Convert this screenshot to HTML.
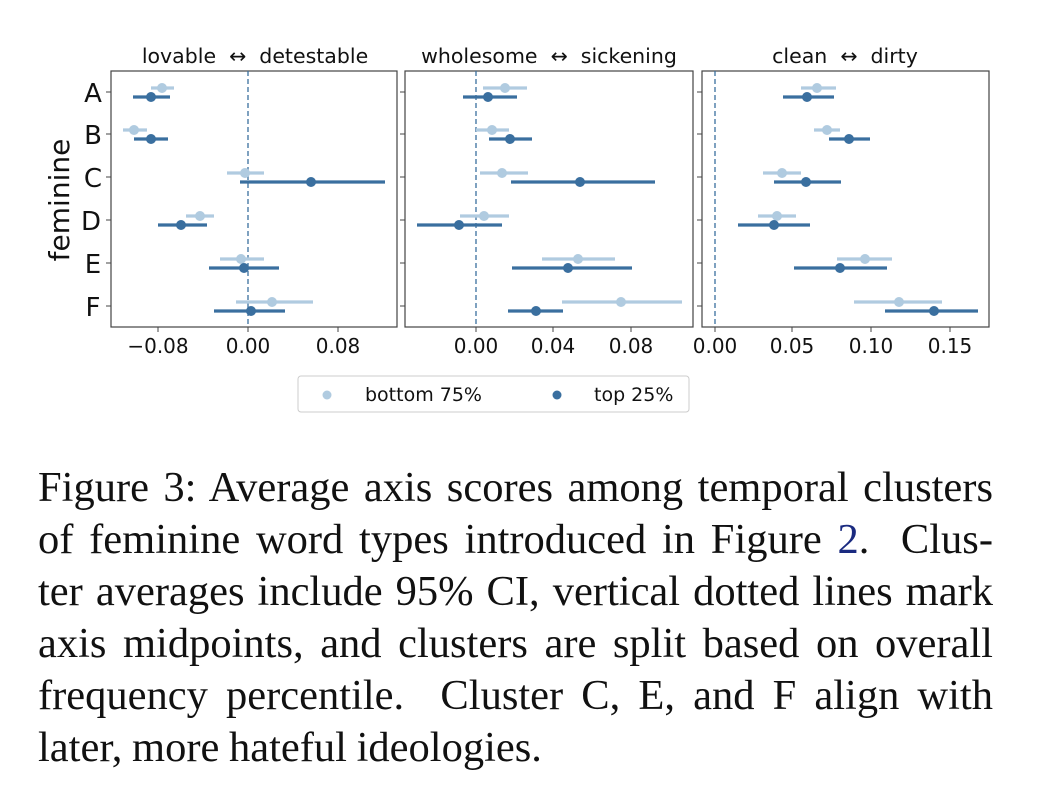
<!DOCTYPE html>
<html><head><meta charset="utf-8"><style>
body{margin:0;background:#fff;width:1040px;height:808px;overflow:hidden;position:relative}
svg{position:absolute;left:0;top:0}
.cap{position:absolute;left:38px;width:955px;font-family:"Liberation Serif",serif;font-size:42.5px;line-height:52px;color:#111;text-align:justify;text-align-last:justify;white-space:nowrap;word-spacing:-1px}
</style></head><body>
<svg width="1040" height="430" font-family="DejaVu Sans, sans-serif">
<g fill="none" stroke="#444" stroke-width="1.2">
<rect x="111" y="71" width="286" height="256"/>
<rect x="405" y="71" width="288" height="256"/>
<rect x="702" y="71" width="287" height="256"/>
</g>
<g stroke="#444" stroke-width="1">
<path d="M106 92h5M106 134h5M106 177h5M106 220h5M106 263h5M106 306h5"/>
<path d="M400 92h5M400 134h5M400 177h5M400 220h5M400 263h5M400 306h5"/>
<path d="M697 92h5M697 134h5M697 177h5M697 220h5M697 263h5M697 306h5"/>
<path d="M158 327v5M248 327v5M338 327v5M476 327v5M553 327v5M631 327v5M715 327v5M792 327v5M871 327v5M950 327v5"/>
</g>
<g stroke="#3a6f9f" stroke-width="1.3" stroke-dasharray="5,3">
<path d="M248 71V327M476 71V327M715 71V327"/>
</g>
<g font-size="20.5" fill="#111" text-anchor="middle">
<text x="255" y="63">lovable&#160;&#160;↔&#160;&#160;detestable</text>
<text x="549" y="63">wholesome&#160;&#160;↔&#160;&#160;sickening</text>
<text x="845" y="63">clean&#160;&#160;↔&#160;&#160;dirty</text>
</g>
<g font-size="20" fill="#111" text-anchor="middle">
<text x="158" y="353">−0.08</text><text x="248" y="353">0.00</text><text x="338" y="353">0.08</text>
<text x="476" y="353">0.00</text><text x="553" y="353">0.04</text><text x="631" y="353">0.08</text>
<text x="715" y="353">0.00</text><text x="792" y="353">0.05</text><text x="871" y="353">0.10</text><text x="950" y="353">0.15</text>
</g>
<g font-size="26" fill="#111" text-anchor="middle">
<text x="93" y="102">A</text><text x="93" y="144">B</text><text x="93" y="187">C</text><text x="91" y="230">D</text><text x="93" y="273">E</text><text x="93" y="316">F</text>
</g>
<text transform="translate(69,200) rotate(-90)" font-size="28" text-anchor="middle" fill="#111">feminine</text>
<g stroke="#b0cbe0" stroke-width="3.2" fill="#b0cbe0">
<path d="M151 88H174M123 130H147M227 173H264M186 216H214M220 259H264M236 302H313"/>
<path d="M483 88H527M476 130H509M480 173H528M460 216H509M542 259H615M562 302H682"/>
<path d="M801 88H836M814 130H840M763 173H801M758 216H796M837 259H892M854 302H942"/>
<g stroke="none">
<circle cx="162" cy="88" r="5"/><circle cx="134" cy="130" r="5"/><circle cx="245" cy="173" r="5"/><circle cx="200" cy="216" r="5"/><circle cx="241" cy="259" r="5"/><circle cx="272" cy="302" r="5"/>
<circle cx="505" cy="88" r="5"/><circle cx="492" cy="130" r="5"/><circle cx="502" cy="173" r="5"/><circle cx="484" cy="216" r="5"/><circle cx="578" cy="259" r="5"/><circle cx="621" cy="302" r="5"/>
<circle cx="817" cy="88" r="5"/><circle cx="827" cy="130" r="5"/><circle cx="782" cy="173" r="5"/><circle cx="777" cy="216" r="5"/><circle cx="865" cy="259" r="5"/><circle cx="899" cy="302" r="5"/>
</g></g>
<g stroke="#3a6f9f" stroke-width="3.2" fill="#3a6f9f">
<path d="M133 97H170M134 139H168M240 182H385M158 225H207M209 268H279M214 311H285"/>
<path d="M463 97H517M489 139H532M511 182H655M417 225H502M512 268H632M508 311H563"/>
<path d="M783 97H834M829 139H870M774 182H841M738 225H810M794 268H887M885 311H978"/>
<g stroke="none">
<circle cx="151" cy="97" r="5"/><circle cx="151" cy="139" r="5"/><circle cx="311" cy="182" r="5"/><circle cx="181" cy="225" r="5"/><circle cx="244" cy="268" r="5"/><circle cx="251" cy="311" r="5"/>
<circle cx="488" cy="97" r="5"/><circle cx="510" cy="139" r="5"/><circle cx="580" cy="182" r="5"/><circle cx="459" cy="225" r="5"/><circle cx="568" cy="268" r="5"/><circle cx="536" cy="311" r="5"/>
<circle cx="807" cy="97" r="5"/><circle cx="849" cy="139" r="5"/><circle cx="806" cy="182" r="5"/><circle cx="774" cy="225" r="5"/><circle cx="840" cy="268" r="5"/><circle cx="934" cy="311" r="5"/>
</g></g>
<rect x="298" y="376" width="391" height="36" rx="3" fill="#fff" stroke="#ccc"/>
<circle cx="327" cy="395" r="4.5" fill="#b0cbe0"/><text x="365" y="401" font-size="19" fill="#111">bottom 75%</text>
<circle cx="557" cy="395" r="4.5" fill="#3a6f9f"/><text x="594" y="401" font-size="19" fill="#111">top 25%</text>
</svg>
<div class="cap" style="top:462px">Figure 3: Average axis scores among temporal clusters</div>
<div class="cap" style="top:514px">of feminine word types introduced in Figure <span style="color:#1a2a80">2</span>.&nbsp; Clus-</div>
<div class="cap" style="top:566px">ter averages include 95% CI, vertical dotted lines mark</div>
<div class="cap" style="top:618px">axis midpoints, and clusters are split based on overall</div>
<div class="cap" style="top:670px">frequency percentile.&nbsp; Cluster C, E, and F align with</div>
<div class="cap" style="top:722px;text-align-last:left">later, more hateful ideologies.</div>
</body></html>
